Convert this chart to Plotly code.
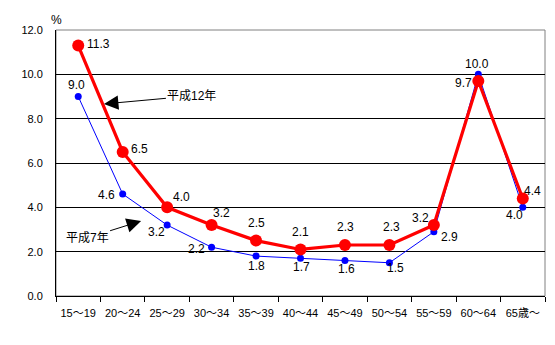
import plotly.graph_objects as go

# age groups and rates (%)
categories = ["15～19", "20～24", "25～29", "30～34", "35～39", "40～44",
              "45～49", "50～54", "55～59", "60～64", "65歳～"]
h12 = [11.3, 6.5, 4.0, 3.2, 2.5, 2.1, 2.3, 2.3, 3.2, 9.7, 4.4]
h7 = [9.0, 4.6, 3.2, 2.2, 1.8, 1.7, 1.6, 1.5, 2.9, 10.0, 4.0]
y_ticks = [0, 2, 4, 6, 8, 10, 12]

# label offsets in pixels (dx, dy up) for each point
h12_off = [(20, 2), (17, 3), (14, 10), (10, 12), (0, 18), (0, 17), (1, 18),
           (2, 18), (-13, 7), (-15, -2), (10, 7)]
h7_off = [(-2, 12), (-16, -1), (-11, -7), (-15, -2), (0, -10), (1, -9),
          (2, -8), (6, -5), (16, -5), (-1, 10), (-8, -8)]

FONT = "Liberation Sans, Arial, Noto Sans CJK JP"

fig = go.Figure()
fig.add_trace(go.Scatter(
    x=categories, y=h7, mode="lines+markers", name="平成7年",
    line=dict(color="#0000FF", width=1),
    marker=dict(color="#0000FF", size=7),
))
fig.add_trace(go.Scatter(
    x=categories, y=h12, mode="lines+markers", name="平成12年",
    line=dict(color="#FF0000", width=3.2),
    marker=dict(color="#FF0000", size=12),
))

annotations = []
for vals, offs in ((h12, h12_off), (h7, h7_off)):
    for c, v, (dx, dy) in zip(categories, vals, offs):
        annotations.append(dict(
            x=c, y=v, xref="x", yref="y", text=f"{v:.1f}", showarrow=False,
            xshift=dx, yshift=dy, xanchor="center", yanchor="middle",
            font=dict(family=FONT, size=12, color="#000000"),
        ))

# series callouts with arrows
annotations.append(dict(
    x=0.098, y=0.722, xref="paper", yref="paper", text="平成12年",
    showarrow=True, ax=88, ay=-8, arrowhead=2, arrowsize=2.9, arrowwidth=1,
    arrowcolor="#000000", font=dict(family=FONT, size=12, color="#000000"),
))
annotations.append(dict(
    x=0.174, y=0.282, xref="paper", yref="paper", text="平成7年",
    showarrow=True, ax=-54, ay=17, arrowhead=2, arrowsize=2.9, arrowwidth=1,
    arrowcolor="#000000", font=dict(family=FONT, size=12, color="#000000"),
))
annotations.append(dict(
    x=0, y=1, xref="paper", yref="paper", text="%", showarrow=False,
    xanchor="center", yanchor="bottom", yshift=1,
    font=dict(family=FONT, size=12, color="#000000"),
))

fig.update_layout(
    width=555, height=345,
    margin=dict(l=56, r=10, t=30, b=49),
    paper_bgcolor="white", plot_bgcolor="white",
    showlegend=False,
    annotations=annotations,
    shapes=[dict(type="rect", xref="paper", yref="paper", x0=0, y0=0, x1=1, y1=1,
                 line=dict(color="#808080", width=1), layer="below")],
    font=dict(family=FONT, size=11, color="#000000"),
)
fig.update_xaxes(
    type="category", tickson="boundaries", ticks="outside", ticklen=5,
    tickcolor="#000000", showline=True, linecolor="#000000", linewidth=1,
    showgrid=False, tickfont=dict(size=11), tickangle=0,
    ticklabelstandoff=7, range=[-0.5, len(categories) - 0.5],
)
fig.update_yaxes(
    range=[0, 12], tickvals=y_ticks, ticktext=[f"{t:.1f}" for t in y_ticks],
    showline=True, linecolor="#000000", linewidth=1,
    showgrid=True, gridcolor="#000000", gridwidth=1, zeroline=False,
    ticks="", tickfont=dict(size=11), ticklabelstandoff=10,
)

fig.write_html("out.html")
